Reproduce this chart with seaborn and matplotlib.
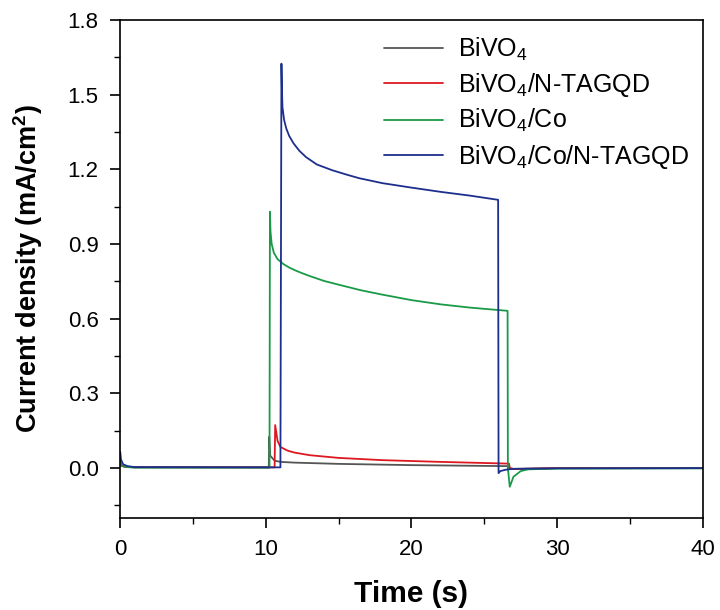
import numpy as np
import pandas as pd
import seaborn as sns
import matplotlib
matplotlib.use("Agg")
import matplotlib.pyplot as plt
from matplotlib.ticker import MultipleLocator, FormatStrFormatter

sns.set_theme(style="ticks")
plt.rcParams['font.family'] = ['Liberation Sans', 'DejaVu Sans']
plt.rcParams['mathtext.fontset'] = 'custom'
plt.rcParams['mathtext.rm'] = 'Liberation Sans'
plt.rcParams['mathtext.it'] = 'Liberation Sans'
plt.rcParams['mathtext.bf'] = 'Liberation Sans:bold'
plt.rcParams['text.color'] = 'black'
plt.rcParams['axes.labelcolor'] = 'black'

labels = ["BiVO$_4$", "BiVO$_4$/N-TAGQD", "BiVO$_4$/Co", "BiVO$_4$/Co/N-TAGQD"]
colors = ["#555555", "#dc1820", "#1a9a48", "#1c2f8c"]

t_bivo4 = [0, 0.05, 0.3, 1, 10.2, 10.23, 10.3, 10.6, 11, 12, 15, 20, 26.6, 26.7, 27, 30, 40]
v_bivo4 = [0.015, 0.01, 0.005, 0.003, 0.003, 0.126, 0.05, 0.03, 0.025, 0.022, 0.017, 0.012, 0.008, 0.0, -0.003, 0.0, 0.0]

t_ntag = [0, 0.05, 0.5, 10.6, 10.64, 10.8, 11, 11.5, 12, 13, 15, 18, 22, 26.7, 26.75, 27, 30, 40]
v_ntag = [0.02, 0.01, 0.004, 0.003, 0.173, 0.11, 0.085, 0.07, 0.062, 0.052, 0.041, 0.032, 0.025, 0.018, 0.0, -0.004, 0.0, 0.0]

t_co = [0, 0.1, 0.5, 1, 10.25, 10.28, 10.32, 10.4, 10.55, 10.8, 11.2, 11.6, 12, 12.5, 13, 14, 15, 16.5, 18, 20, 22, 24, 26.6, 26.62, 26.75, 27, 27.5, 28, 30, 40]
v_co = [0.03, 0.01, 0.004, 0.002, 0.002, 1.03, 0.95, 0.9, 0.865, 0.84, 0.82, 0.806, 0.795, 0.783, 0.772, 0.752, 0.737, 0.715, 0.697, 0.675, 0.658, 0.645, 0.632, 0.0, -0.075, -0.035, -0.012, -0.005, -0.002, -0.001]

t_coq = [0, 0.05, 0.2, 0.5, 1, 11.0, 11.07, 11.1, 11.14, 11.25, 11.4, 11.6, 11.9, 12.3, 12.75, 13.5, 14.55, 15.5, 16.4, 18, 20, 22, 24, 25.95, 25.98, 26.1, 26.5, 27, 30, 40]
v_coq = [0.065, 0.035, 0.015, 0.008, 0.004, 0.003, 1.625, 1.53, 1.45, 1.40, 1.365, 1.335, 1.305, 1.275, 1.25, 1.22, 1.197, 1.18, 1.165, 1.145, 1.127, 1.11, 1.095, 1.078, -0.02, -0.012, -0.006, -0.003, -0.001, 0.0]

frames = []
for lab, t, v in zip(labels, [t_bivo4, t_ntag, t_co, t_coq], [v_bivo4, v_ntag, v_co, v_coq]):
    frames.append(pd.DataFrame({"Time": t, "J": v, "Sample": lab}))
df = pd.concat(frames, ignore_index=True)

fig = plt.figure(figsize=(7.2, 6.1), dpi=100)
ax = fig.add_axes([0.167, 0.151, 0.809, 0.816])
sns.lineplot(data=df, x="Time", y="J", hue="Sample", hue_order=labels,
             palette=colors, estimator=None, sort=False, linewidth=1.3, ax=ax)

ax.set_xlim(0, 40)
ax.set_ylim(-0.2, 1.8)
ax.xaxis.set_major_locator(MultipleLocator(10))
ax.xaxis.set_minor_locator(MultipleLocator(5))
ax.yaxis.set_major_locator(MultipleLocator(0.3))
ax.yaxis.set_minor_locator(MultipleLocator(0.15))
ax.yaxis.set_major_formatter(FormatStrFormatter('%.1f'))
ax.tick_params(which='major', direction='out', length=7.5, width=1.2, labelsize=16, colors='black')
ax.tick_params(which='minor', direction='out', length=4, width=1.0, colors='black')
ax.tick_params(axis='x', which='major', pad=8)
ax.tick_params(axis='y', which='major', pad=8)
for s in ax.spines.values():
    s.set_linewidth(1.2)
    s.set_color('black')
ax.set_xlabel("Time (s)", fontsize=21.5, fontweight='bold', labelpad=14, color='black')
ax.set_ylabel("Current density (mA/cm$^\\mathbf{2}$)", fontsize=19.5, fontweight='bold', labelpad=16, color='black')

leg = ax.legend(loc='upper right', bbox_to_anchor=(0.976, 0.969), frameon=False, fontsize=18,
                handlelength=2.35, handletextpad=0.6, labelspacing=0.33,
                borderaxespad=0, borderpad=0)
for txt in leg.get_texts():
    txt.set_color('black')
fig.savefig("out.png", dpi=100)
